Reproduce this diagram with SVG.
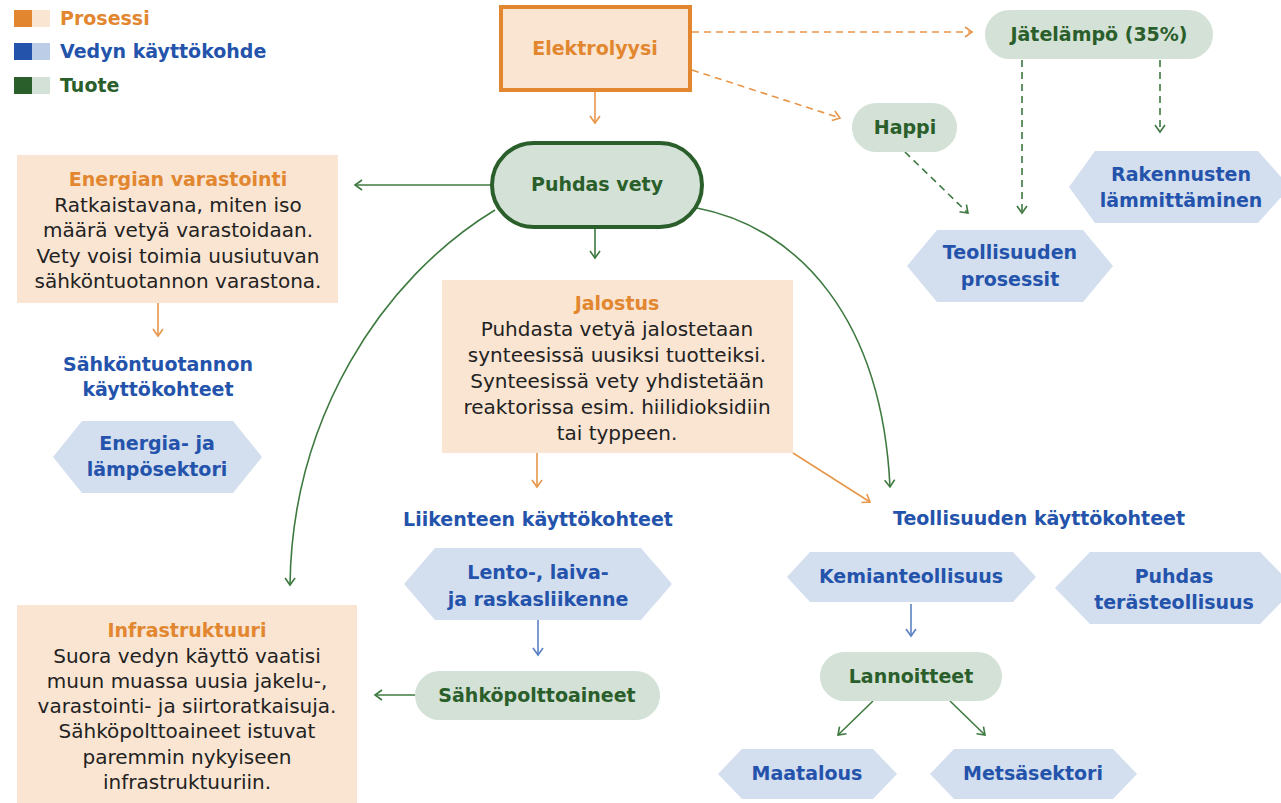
<svg xmlns="http://www.w3.org/2000/svg" width="1281" height="803" viewBox="0 0 1281 803">
<defs>
<style>
.t{font-family:"DejaVu Sans","Liberation Sans",sans-serif;text-anchor:middle;}
.b{font-weight:700;font-size:19px;}
.body{font-size:20px;fill:#222;}
.or{fill:#E2872F;}
.bl{fill:#2453AC;}
.gr{fill:#2A5E2A;}
.hex{fill:#D3DEEE;}
.pill{fill:#D4E1D6;}
.box{fill:#FAE5D3;}
.lo{stroke:#E8974A;stroke-width:1.6;fill:none;}
.lg{stroke:#3E7A40;stroke-width:1.6;fill:none;}
.lb{stroke:#5B82C4;stroke-width:1.6;fill:none;}
.d{stroke-dasharray:7 5;}
</style>
<marker id="ao" viewBox="0 0 12 12" refX="10" refY="6" markerWidth="12" markerHeight="12" markerUnits="userSpaceOnUse" orient="auto"><path d="M3,1 L10,6 L3,11" fill="none" stroke="#E8974A" stroke-width="1.6"/></marker>
<marker id="ag" viewBox="0 0 12 12" refX="10" refY="6" markerWidth="12" markerHeight="12" markerUnits="userSpaceOnUse" orient="auto"><path d="M3,1 L10,6 L3,11" fill="none" stroke="#3E7A40" stroke-width="1.6"/></marker>
<marker id="ab" viewBox="0 0 12 12" refX="10" refY="6" markerWidth="12" markerHeight="12" markerUnits="userSpaceOnUse" orient="auto"><path d="M3,1 L10,6 L3,11" fill="none" stroke="#5B82C4" stroke-width="1.6"/></marker>
</defs>
<rect width="1281" height="803" fill="#fff"/>

<g id="legend">
<rect x="14" y="10" width="18" height="17" fill="#E2872F"/><rect x="32" y="10" width="18" height="17" fill="#FAE5D3"/>
<text x="60" y="25" class="t b or" style="text-anchor:start">Prosessi</text>
<rect x="14" y="43" width="18" height="17" fill="#2453AC"/><rect x="32" y="43" width="18" height="17" fill="#BCCDE8"/>
<text x="60" y="58" class="t b bl" style="text-anchor:start">Vedyn käyttökohde</text>
<rect x="14" y="77" width="18" height="17" fill="#2A5E2A"/><rect x="32" y="77" width="18" height="17" fill="#D4E1D6"/>
<text x="60" y="92" class="t b gr" style="text-anchor:start">Tuote</text>
</g>

<g id="connectors">
<line x1="595" y1="92" x2="595" y2="123" class="lo" marker-end="url(#ao)"/>
<line x1="692" y1="32" x2="972" y2="32" class="lo d" marker-end="url(#ao)"/>
<line x1="692" y1="70" x2="840" y2="118" class="lo d" marker-end="url(#ao)"/>
<line x1="905" y1="152" x2="968" y2="213" class="lg d" marker-end="url(#ag)"/>
<line x1="1022" y1="60" x2="1022" y2="213" class="lg d" marker-end="url(#ag)"/>
<line x1="1160" y1="60" x2="1160" y2="132" class="lg d" marker-end="url(#ag)"/>
<line x1="492" y1="185" x2="355" y2="185" class="lg" marker-end="url(#ag)"/>
<line x1="595" y1="228" x2="595" y2="258" class="lg" marker-end="url(#ag)"/>
<path d="M697,208 C800,228 882,320 890,487" class="lg" marker-end="url(#ag)"/>
<path d="M495,210 C380,280 292,420 290,585" class="lg" marker-end="url(#ag)"/>
<line x1="158" y1="303" x2="158" y2="336" class="lo" marker-end="url(#ao)"/>
<line x1="537" y1="453" x2="537" y2="487" class="lo" marker-end="url(#ao)"/>
<line x1="793" y1="453" x2="870" y2="502" class="lo" marker-end="url(#ao)"/>
<line x1="538" y1="620" x2="538" y2="655" class="lb" marker-end="url(#ab)"/>
<line x1="415" y1="695" x2="375" y2="695" class="lg" marker-end="url(#ag)"/>
<line x1="911" y1="604" x2="911" y2="636" class="lb" marker-end="url(#ab)"/>
<line x1="873" y1="701" x2="838" y2="735" class="lg" marker-end="url(#ag)"/>
<line x1="950" y1="701" x2="985" y2="735" class="lg" marker-end="url(#ag)"/>
</g>

<g id="elektrolyysi">
<rect x="501" y="7" width="189" height="83" fill="#FAE5D3" stroke="#E2872F" stroke-width="4"/>
<text x="595" y="55" class="t b or">Elektrolyysi</text>
</g>

<g id="jatelampo">
<rect x="985" y="10" width="228" height="49" rx="24.5" class="pill"/>
<text x="1099" y="41" class="t b gr">Jätelämpö (35%)</text>
</g>

<g id="happi">
<rect x="852" y="103" width="105" height="49" rx="24.5" class="pill"/>
<text x="905" y="134" class="t b gr">Happi</text>
</g>

<g id="teollisuuden-prosessit">
<polygon points="907,266 937,230 1083,230 1113,266 1083,302 937,302" class="hex"/>
<text x="1010" y="259" class="t b bl">Teollisuuden</text>
<text x="1010" y="286" class="t b bl">prosessit</text>
</g>

<g id="rakennusten">
<polygon points="1069,187 1095,151 1258,151 1290,187 1258,223 1095,223" class="hex"/>
<text x="1181" y="181" class="t b bl">Rakennusten</text>
<text x="1181" y="207" class="t b bl">lämmittäminen</text>
</g>

<g id="puhdas-vety">
<rect x="492" y="143" width="210" height="84" rx="42" fill="#D4E1D6" stroke="#2A5E2A" stroke-width="4"/>
<text x="597" y="191" class="t b gr">Puhdas vety</text>
</g>

<g id="energian-varastointi">
<rect x="17" y="155" width="321" height="148" class="box"/>
<text x="178" y="186" class="t b or">Energian varastointi</text>
<text x="178" y="212" class="t body">Ratkaistavana, miten iso</text>
<text x="178" y="237" class="t body">määrä vetyä varastoidaan.</text>
<text x="178" y="263" class="t body">Vety voisi toimia uusiutuvan</text>
<text x="178" y="288" class="t body">sähköntuotannon varastona.</text>
</g>

<g id="sahkontuotannon">
<text x="158" y="371" class="t b bl">Sähköntuotannon</text>
<text x="158" y="396" class="t b bl">käyttökohteet</text>
</g>

<g id="energia-lampo">
<polygon points="53,457 82,421 233,421 262,457 233,493 82,493" class="hex"/>
<text x="157" y="450" class="t b bl">Energia- ja</text>
<text x="157" y="476" class="t b bl">lämpösektori</text>
</g>

<g id="jalostus">
<rect x="442" y="280" width="351" height="173" class="box"/>
<text x="617" y="310" class="t b or">Jalostus</text>
<text x="617" y="336" class="t body">Puhdasta vetyä jalostetaan</text>
<text x="617" y="362" class="t body">synteesissä uusiksi tuotteiksi.</text>
<text x="617" y="388" class="t body">Synteesissä vety yhdistetään</text>
<text x="617" y="414" class="t body">reaktorissa esim. hiilidioksidiin</text>
<text x="617" y="440" class="t body">tai typpeen.</text>
</g>

<g id="liikenteen">
<text x="538" y="526" class="t b bl">Liikenteen käyttökohteet</text>
</g>

<g id="lento">
<polygon points="404,584 435,548 641,548 672,584 641,620 435,620" class="hex"/>
<text x="538" y="579" class="t b bl">Lento-, laiva-</text>
<text x="538" y="606" class="t b bl">ja raskasliikenne</text>
</g>

<g id="sahkopolttoaineet">
<rect x="415" y="671" width="245" height="49" rx="24.5" class="pill"/>
<text x="537" y="702" class="t b gr">Sähköpolttoaineet</text>
</g>

<g id="infrastruktuuri">
<rect x="17" y="605" width="340" height="198" class="box"/>
<text x="187" y="637" class="t b or">Infrastruktuuri</text>
<text x="187" y="663" class="t body">Suora vedyn käyttö vaatisi</text>
<text x="187" y="688" class="t body">muun muassa uusia jakelu-,</text>
<text x="187" y="713" class="t body">varastointi- ja siirtoratkaisuja.</text>
<text x="187" y="738" class="t body">Sähköpolttoaineet istuvat</text>
<text x="187" y="764" class="t body">paremmin nykyiseen</text>
<text x="187" y="789" class="t body">infrastruktuuriin.</text>
</g>

<g id="teollisuuden-kayttokohteet">
<text x="1039" y="525" class="t b bl">Teollisuuden käyttökohteet</text>
</g>

<g id="kemianteollisuus">
<polygon points="787,577 810,552 1013,552 1036,577 1013,602 810,602" class="hex"/>
<text x="911" y="583" class="t b bl">Kemianteollisuus</text>
</g>

<g id="terasteollisuus">
<polygon points="1055,588 1090,552 1260,552 1295,588 1260,624 1090,624" class="hex"/>
<text x="1174" y="583" class="t b bl">Puhdas</text>
<text x="1174" y="609" class="t b bl">terästeollisuus</text>
</g>

<g id="lannoitteet">
<rect x="820" y="652" width="182" height="49" rx="24.5" class="pill"/>
<text x="911" y="683" class="t b gr">Lannoitteet</text>
</g>

<g id="maatalous">
<polygon points="718,774 742,749 873,749 897,774 873,799 742,799" class="hex"/>
<text x="807" y="780" class="t b bl">Maatalous</text>
</g>

<g id="metsasektori">
<polygon points="930,774 954,749 1113,749 1137,774 1113,799 954,799" class="hex"/>
<text x="1033" y="780" class="t b bl">Metsäsektori</text>
</g>
</svg>
